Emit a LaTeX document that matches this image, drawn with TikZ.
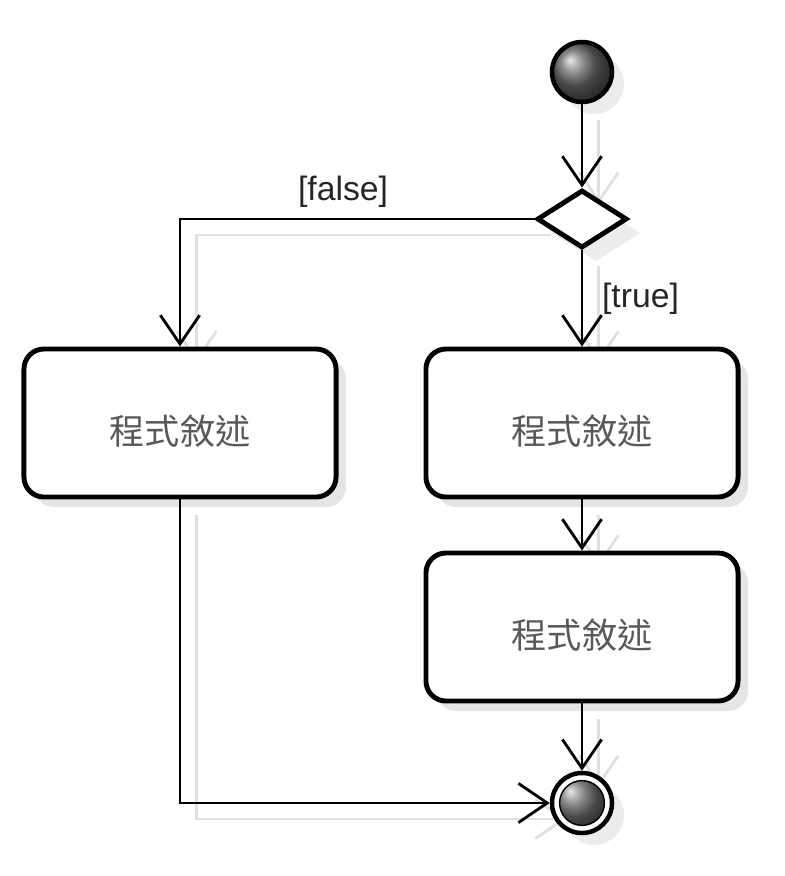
\documentclass[tikz,border=0pt]{standalone}
\usepackage{fontspec}
\setmainfont{Liberation Sans}
\newfontfamily\cjkfont{Noto Sans CJK TC}
\usetikzlibrary{shapes.geometric,arrows.meta,shadows,backgrounds}
\tikzstyle{node_start} = [circle, draw, line width=3.2pt, minimum size=1.5cm, inner sep=0pt, ball color=gray!80!black, drop shadow={shadow xshift=0.3cm, shadow yshift=-0.3cm, fill=black!15}]
\tikzstyle{node_end} = [circle, draw, line width=3.2pt, minimum size=1.5cm, inner sep=0pt, fill=white, drop shadow={shadow xshift=0.3cm, shadow yshift=-0.3cm, fill=black!15}, path picture={\shade[ball color=gray!80!black, draw=black, line width=1pt] (path picture bounding box.center) circle (0.56cm);}]
\tikzstyle{node_choice} = [diamond, draw, line width=3.5pt, fill=white, minimum width=2.25cm, minimum height=1.45cm, inner sep=0pt, drop shadow={shadow xshift=0.35cm, shadow yshift=-0.35cm, fill=black!15}]
\tikzstyle{node_action} = [rectangle, rounded corners=0.5cm, draw, line width=3.5pt, fill=white, minimum width=7.8cm, minimum height=3.7cm, font=\cjkfont\fontsize{25}{30}\selectfont, text=black!65, drop shadow={shadow xshift=0.25cm, shadow yshift=-0.25cm, fill=black!20}]
\tikzstyle{edge_normal} = [-{Straight Barb[length=0.72cm,width=0.98cm]}, line width=2pt]
\tikzstyle{edge_shadow} = [edge_normal, draw=black!12, transform canvas={shift={(0.42cm,-0.4cm)}}]
\tikzstyle{label_guard} = [font=\fontsize{24}{28}\selectfont, text=black!85]
\newcommand{\actiontext}{\raisebox{-0.2cm}[0.88em][0.12em]{程式敘述}}

\begin{document}
\begin{tikzpicture}[x=0.025cm, y=-0.025cm]
\useasboundingbox (0,0) rectangle (784,876);
\node (start) at (582,72) [node_start] {};
\node (choice) at (582,219) [node_choice] {};
\node (left) at (180,423) [node_action] {\actiontext};
\node (right1) at (582,423) [node_action] {\actiontext};
\node (right2) at (582,627) [node_action] {\actiontext};
\node (end) at (582,803) [node_end] {};
\coordinate (turn) at (180,803);
% shadows of the connectors
\begin{scope}[on background layer]
\draw[edge_shadow] (start)--(choice);
\draw[edge_shadow] (choice.west) -| (left.north);
\draw[edge_shadow] (choice.south)--(right1.north);
\draw[edge_shadow] (right1)--(right2);
\draw[edge_shadow] (right2)--(end);
\draw[edge_shadow] (left.south)--(turn)--(end.west);
\end{scope}
% connectors
\draw[edge_normal] (start)--(choice);
\draw[edge_normal] (choice.west) -| node[label_guard, above=4pt, pos=0.27] {[false]} (left.north);
\draw[edge_normal] (choice.south)-- node[label_guard, right=0.35cm] {[true]} (right1.north);
\draw[edge_normal] (right1)--(right2);
\draw[edge_normal] (right2)--(end);
\draw[edge_normal] (left.south)--(turn)--(end.west);
\end{tikzpicture}
\end{document}
